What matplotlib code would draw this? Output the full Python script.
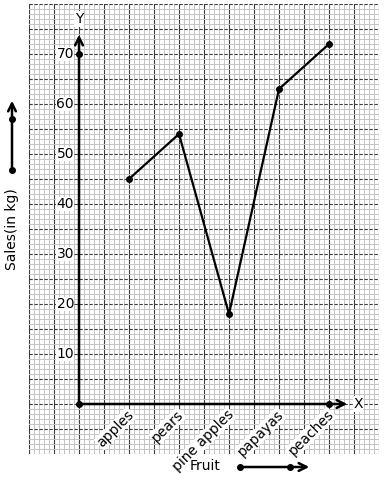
import numpy as np
import matplotlib
matplotlib.use("Agg")
import matplotlib.pyplot as plt

fruits = ["apples", "pears", "pine apples", "papayas", "peaches"]
sales = [45, 54, 18, 63, 72]
y_ticks = [10, 20, 30, 40, 50, 60, 70]

fig = plt.figure(figsize=(3.84, 4.8), dpi=100)
ax = fig.add_axes([29 / 384, 26 / 480, 350 / 384, 450 / 480])
ax.set_xlim(-1, 6)
ax.set_ylim(-10, 80)

# graph paper
ax.set_xticks(np.arange(-1, 6.01, 0.5))
ax.set_xticks(np.arange(-1, 6.01, 0.1), minor=True)
ax.set_yticks(np.arange(-10, 80.1, 5))
ax.set_yticks(np.arange(-10, 80.1, 1), minor=True)
ax.grid(which="minor", color="#c4c4c4", lw=0.7)
ax.xaxis.grid(True, which="major", color="#3c3c3c", lw=0.8)
ax.yaxis.grid(True, which="major", color="#3c3c3c", lw=0.8, ls=(0, (3, 1.5)))
ax.set_axisbelow(True)
ax.tick_params(which="both", length=0, labelbottom=False, labelleft=False)
for s in ax.spines.values():
    s.set_visible(False)

# axes with arrows
ax.annotate("", xy=(0, 74.4), xytext=(0, 0),
            arrowprops=dict(arrowstyle="->", lw=1.8, color="black", mutation_scale=14))
ax.annotate("", xy=(5.42, 0), xytext=(0, 0),
            arrowprops=dict(arrowstyle="->", lw=1.8, color="black", mutation_scale=14))
ax.plot([0, 0, 5], [0, 70, 0], "o", color="black", ms=4, zorder=5)
ax.text(0, 77, "Y", ha="center", va="center", fontsize=10,
        bbox=dict(fc="white", ec="none", pad=0.5))
ax.text(5.58, 0, "X", ha="center", va="center", fontsize=10,
        bbox=dict(fc="white", ec="none", pad=0.5))

for v in y_ticks:
    ax.text(-0.1, v, str(v), ha="right", va="center", fontsize=10,
            bbox=dict(fc="white", ec="none", pad=0.3))

xs = np.arange(1, len(fruits) + 1)
for x, name in zip(xs, fruits):
    ax.text(x + 0.15, -0.7, name, rotation=45, ha="right", va="top", fontsize=10,
            bbox=dict(fc="white", ec="none", pad=0.3))

ax.plot(xs, sales, "-o", color="black", lw=1.6, ms=4, zorder=4)

# outer labels
fig.text(12, 251, "Sales(in kg)", rotation=90, ha="center", va="center",
         fontsize=10, transform=None)
fig.text(205, 14, "Fruit", ha="center", va="center", fontsize=10, transform=None)
fa = dict(arrowstyle="->", lw=1.8, color="black", mutation_scale=14)
fig.add_artist(matplotlib.patches.FancyArrowPatch((12, 310), (12, 382), transform=None, **fa))
fig.add_artist(matplotlib.patches.FancyArrowPatch((240, 13), (312, 13), transform=None, **fa))
for px, py in [(12, 310), (12, 361), (240, 13), (290, 13)]:
    fig.add_artist(matplotlib.lines.Line2D([px], [py], marker="o", ms=4,
                                           color="black", transform=None))

fig.savefig("out.png", dpi=100)
